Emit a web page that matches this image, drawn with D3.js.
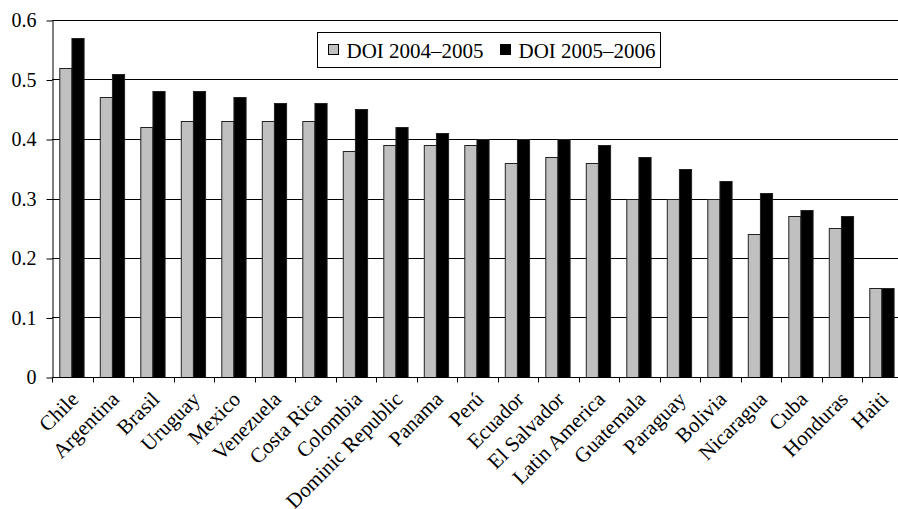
<!DOCTYPE html>
<html>
<head>
<meta charset="utf-8">
<script src="https://cdn.jsdelivr.net/npm/d3@7"></script>
<style>
  html, body { margin: 0; padding: 0; background: #fff; }
  svg { display: block; }
</style>
</head>
<body>
<svg id="chart" width="898" height="509"></svg>
<script>
// Democratic development index by country, two editions
const countries = ["Chile", "Argentina", "Brasil", "Uruguay", "Mexico", "Venezuela", "Costa Rica",
  "Colombia", "Dominic Republic", "Panama", "Perú", "Ecuador", "El Salvador", "Latin America",
  "Guatemala", "Paraguay", "Bolivia", "Nicaragua", "Cuba", "Honduras", "Haiti"];
const doi2004_2005 = [0.52, 0.47, 0.42, 0.43, 0.43, 0.43, 0.43, 0.38, 0.39, 0.39, 0.39, 0.36, 0.37,
  0.36, 0.30, 0.30, 0.30, 0.24, 0.27, 0.25, 0.15];
const doi2005_2006 = [0.57, 0.51, 0.48, 0.48, 0.47, 0.46, 0.46, 0.45, 0.42, 0.41, 0.40, 0.40, 0.40,
  0.39, 0.37, 0.35, 0.33, 0.31, 0.28, 0.27, 0.15];
const seriesNames = ["DOI 2004–2005", "DOI 2005–2006"];
const seriesFill = ["#c0c0c0", "#000000"];
const yTicks = [0, 0.1, 0.2, 0.3, 0.4, 0.5, 0.6];

const FONT = "'Liberation Serif', 'Times New Roman', serif";
const svg = d3.select("#chart");
const plotLeft = 52, plotTop = 20, plotBottom = 377;
const step = 40.5;

const x0 = d3.scaleBand().domain(countries).range([plotLeft, plotLeft + step * countries.length]).padding(0);
const x1 = d3.scaleBand().domain(seriesNames)
  .range([x0.bandwidth() * 0.18, x0.bandwidth() * 0.78]).padding(0);
const y = d3.scaleLinear().domain([0, 0.6]).range([plotBottom, plotTop]);

// horizontal gridlines
svg.append("g")
  .selectAll("line").data(yTicks.filter(d => d > 0)).join("line")
  .attr("x1", plotLeft).attr("x2", 898)
  .attr("y1", d => Math.round(y(d)) + 0.5).attr("y2", d => Math.round(y(d)) + 0.5)
  .attr("stroke", "#000").attr("stroke-width", 1);

// bars
const rows = countries.map((c, i) => ({ c, vals: [doi2004_2005[i], doi2005_2006[i]] }));
const groups = svg.append("g").selectAll("g").data(rows).join("g")
  .attr("transform", d => `translate(${x0(d.c)},0)`);
groups.selectAll("rect").data(d => d.vals.map((v, k) => ({ v, k }))).join("rect")
  .attr("x", d => x1(seriesNames[d.k]) + 0.5)
  .attr("width", x1.bandwidth())
  .attr("y", d => Math.round(y(d.v)) + 0.5)
  .attr("height", d => Math.round(plotBottom) - Math.round(y(d.v)))
  .attr("fill", d => seriesFill[d.k])
  .attr("stroke", "#222").attr("stroke-width", 1);

// y axis
const yAxis = svg.append("g").attr("transform", `translate(${plotLeft + 0.5},0.5)`)
  .call(d3.axisLeft(y).tickValues(yTicks).tickFormat(d => d === 0 ? "0" : d3.format(".1f")(d))
    .tickSizeInner(6).tickSizeOuter(0).tickPadding(10));
yAxis.select(".domain").attr("stroke", "#000");
yAxis.selectAll("line").attr("stroke", "#000");
yAxis.selectAll("text").attr("font-size", 20).style("font-family", FONT).attr("fill", "#000");

// x axis
const xAxis = svg.append("g").attr("transform", `translate(0.5,${plotBottom + 0.5})`);
xAxis.append("line").attr("x1", plotLeft).attr("x2", 898).attr("stroke", "#000");
xAxis.selectAll("line.tick").data(d3.range(countries.length + 1)).join("line")
  .attr("class", "tick")
  .attr("x1", i => Math.round(plotLeft + i * step)).attr("x2", i => Math.round(plotLeft + i * step))
  .attr("y1", 0).attr("y2", 5).attr("stroke", "#000");
xAxis.selectAll("text").data(countries).join("text")
  .attr("font-size", 21)
  .style("font-family", FONT)
  .attr("text-anchor", "end")
  .attr("transform", d => `translate(${x0(d) + x0.bandwidth() / 2 + 7},${23}) rotate(-45)`)
  .text(d => d);

// legend
const lg = svg.append("g").attr("transform", "translate(317.5,32.5)");
lg.append("rect").attr("width", 343).attr("height", 35).attr("fill", "#fff").attr("stroke", "#000");
const items = [{ x: 11, name: seriesNames[0], fill: seriesFill[0] }, { x: 183, name: seriesNames[1], fill: seriesFill[1] }];
items.forEach(it => {
  lg.append("rect").attr("x", it.x).attr("y", 12).attr("width", 10).attr("height", 10)
    .attr("fill", it.fill).attr("stroke", "#000");
  lg.append("text").attr("x", it.x + 18).attr("y", 25).attr("font-size", 21)
    .style("font-family", FONT).text(it.name);
});
</script>
</body>
</html>
